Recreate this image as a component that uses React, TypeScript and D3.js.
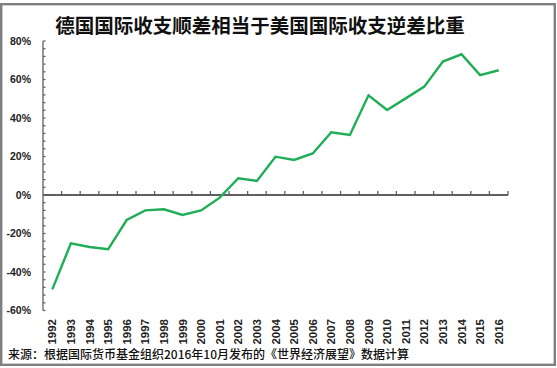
import { useEffect, useRef } from 'react';
import * as d3 from 'd3';

const YEARS = [
  '1992', '1993', '1994', '1995', '1996', '1997', '1998', '1999', '2000', '2001', '2002', '2003', '2004',
  '2005', '2006', '2007', '2008', '2009', '2010', '2011', '2012', '2013', '2014', '2015', '2016',
];
// 德国顺差 / 美国逆差 (%)
const RATIO = [
  -49, -25.1, -27, -28.2, -13, -8, -7.4, -10.4, -8, -1.4, 8.7, 7.3, 19.9,
  18.2, 21.6, 32.6, 31.2, 51.8, 44.2, 50.2, 56.3, 69.3, 73.1, 62.3, 64.8,
];
const Y_TICKS = [-60, -40, -20, 0, 20, 40, 60, 80];
const TITLE = '德国国际收支顺差相当于美国国际收支逆差比重';
const SOURCE = '来源：根据国际货币基金组织2016年10月发布的《世界经济展望》数据计算';

const W = 557;
const H = 368;

export default function App() {
  const ref = useRef<SVGSVGElement>(null);

  useEffect(() => {
    if (!ref.current) return;
    const svg = d3.select(ref.current);
    svg.selectAll('*').remove();

    const left = 43, right = 508, top = 41, bottom = 310.5;
    const x = d3.scaleBand<string>().domain(YEARS).range([left, right]);
    const y = d3.scaleLinear().domain([-60, 80]).range([bottom, top]);
    const axisColor = '#5f5f5f';
    const latin = '"Liberation Sans", Arial, sans-serif';
    const cjk = '"Noto Sans CJK SC", sans-serif';

    // frame
    svg.append('rect').attr('x', 1.2).attr('y', 4.2).attr('width', W - 3.4).attr('height', H - 7.4)
      .attr('fill', '#fff').attr('stroke', '#7f7f7f').attr('stroke-width', 2.4);

    // title
    svg.append('text').attr('x', 260).attr('y', 33).attr('text-anchor', 'middle')
      .attr('font-family', cjk).attr('font-weight', 700).attr('font-size', 19.5)
      .attr('fill', '#111').text(TITLE);

    // y axis with minor ticks every 4%
    const g = svg.append('g');
    g.append('line').attr('x1', left).attr('x2', left).attr('y1', top).attr('y2', bottom)
      .attr('stroke', axisColor).attr('stroke-width', 1.3);
    g.selectAll('.minor').data(d3.range(-60, 81, 4)).join('line')
      .attr('x1', left).attr('x2', left + 2.5)
      .attr('y1', d => y(d)).attr('y2', d => y(d))
      .attr('stroke', axisColor).attr('stroke-width', 1.2);
    g.selectAll('.ylab').data(Y_TICKS).join('text')
      .attr('x', 31).attr('y', d => y(d)).attr('dy', '0.35em').attr('text-anchor', 'end')
      .attr('font-family', latin).attr('font-weight', 700).attr('font-size', 10.5)
      .attr('fill', '#222').text(d => `${d}%`);

    // x axis on the zero line, ticks pointing up at category boundaries
    const y0 = y(0);
    g.append('line').attr('x1', left).attr('x2', right).attr('y1', y0).attr('y2', y0)
      .attr('stroke', axisColor).attr('stroke-width', 1.8);
    g.selectAll('.xtick').data(YEARS).join('line')
      .attr('x1', d => x(d)! + x.bandwidth()).attr('x2', d => x(d)! + x.bandwidth())
      .attr('y1', y0).attr('y2', y0 - 4)
      .attr('stroke', axisColor).attr('stroke-width', 1.3);
    g.selectAll('.xlab').data(YEARS).join('text')
      .attr('transform', d => `translate(${x(d)! + x.bandwidth() / 2},319) rotate(-90)`)
      .attr('dy', '0.35em').attr('text-anchor', 'end')
      .attr('font-family', latin).attr('font-weight', 700).attr('font-size', 11.5)
      .attr('fill', '#222').text(d => d);

    // series
    const line = d3.line<number>()
      .x((_, i) => x(YEARS[i])! + x.bandwidth() / 2)
      .y(d => y(d));
    svg.append('path').datum(RATIO).attr('d', line)
      .attr('fill', 'none').attr('stroke', '#1fae57').attr('stroke-width', 2.4)
      .attr('stroke-linejoin', 'miter');

    // source
    svg.append('text').attr('x', 8).attr('y', 359)
      .attr('font-family', cjk).attr('font-weight', 500).attr('font-size', 12)
      .attr('fill', '#111').text(SOURCE);
  }, []);

  return (
    <svg ref={ref} width={W} height={H}
      style={{ position: 'absolute', left: 0, top: 0, background: '#fff' }} />
  );
}
